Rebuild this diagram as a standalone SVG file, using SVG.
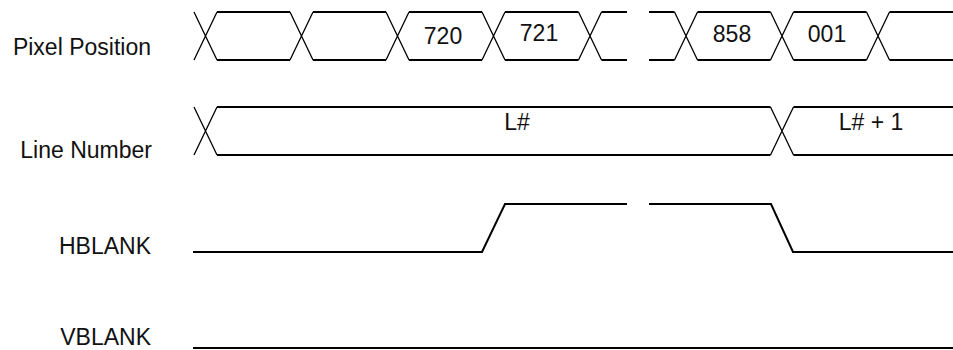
<svg xmlns="http://www.w3.org/2000/svg" width="953" height="350" viewBox="0 0 953 350">
<style>
.lbl{font-family:"Liberation Sans",Arial,sans-serif;font-size:23px;fill:#111;text-anchor:end}
.val{font-family:"Liberation Sans",Arial,sans-serif;font-size:23px;fill:#111;text-anchor:middle}
.h{stroke:#000;stroke-width:2;fill:none}
.x{stroke:#000;stroke-width:1.3;fill:none}
</style>
<rect width="953" height="350" fill="#fff"/>
<g id="labels">
<text class="lbl" x="151" y="55">Pixel Position</text>
<text class="lbl" x="152" y="158">Line Number</text>
<text class="lbl" x="151" y="254">HBLANK</text>
<text class="lbl" x="151" y="345">VBLANK</text>
</g>
<g id="pixel-position">
<path class="h" d="M217,12H290M313,12H386M409,12H482M505,12H578.5M601.5,12H627M649,12H674.5M697.5,12H770.5M793.5,12H866.5M889.5,12H953"/>
<path class="h" d="M217,60H290M313,60H386M409,60H482M505,60H578.5M601.5,60H627M649,60H674.5M697.5,60H770.5M793.5,60H866.5M889.5,60H953"/>
<path class="x" d="M194,12L217,60M194,60L217,12M290,12L313,60M290,60L313,12M386,12L409,60M386,60L409,12M482,12L505,60M482,60L505,12M578.5,12L601.5,60M578.5,60L601.5,12M674.5,12L697.5,60M674.5,60L697.5,12M770.5,12L793.5,60M770.5,60L793.5,12M866.5,12L889.5,60M866.5,60L889.5,12"/>
<text class="val" x="443" y="44">720</text>
<text class="val" x="539" y="41">721</text>
<text class="val" x="732" y="42">858</text>
<text class="val" x="827" y="42">001</text>
</g>
<g id="line-number">
<path class="h" d="M217,107H770.5M793.5,107H953M217,155H770.5M793.5,155H953"/>
<path class="x" d="M194,107L217,155M194,155L217,107M770.5,107L793.5,155M770.5,155L793.5,107"/>
<text class="val" x="517" y="130">L#</text>
<text class="val" x="871" y="130">L# + 1</text>
</g>
<g id="hblank">
<polyline class="h" points="193,252 482,252 505,204 627,204"/>
<polyline class="h" points="649,204 771,204 793,252 953,252"/>
</g>
<g id="vblank">
<line class="h" x1="193" y1="348" x2="953" y2="348"/>
</g>
</svg>
